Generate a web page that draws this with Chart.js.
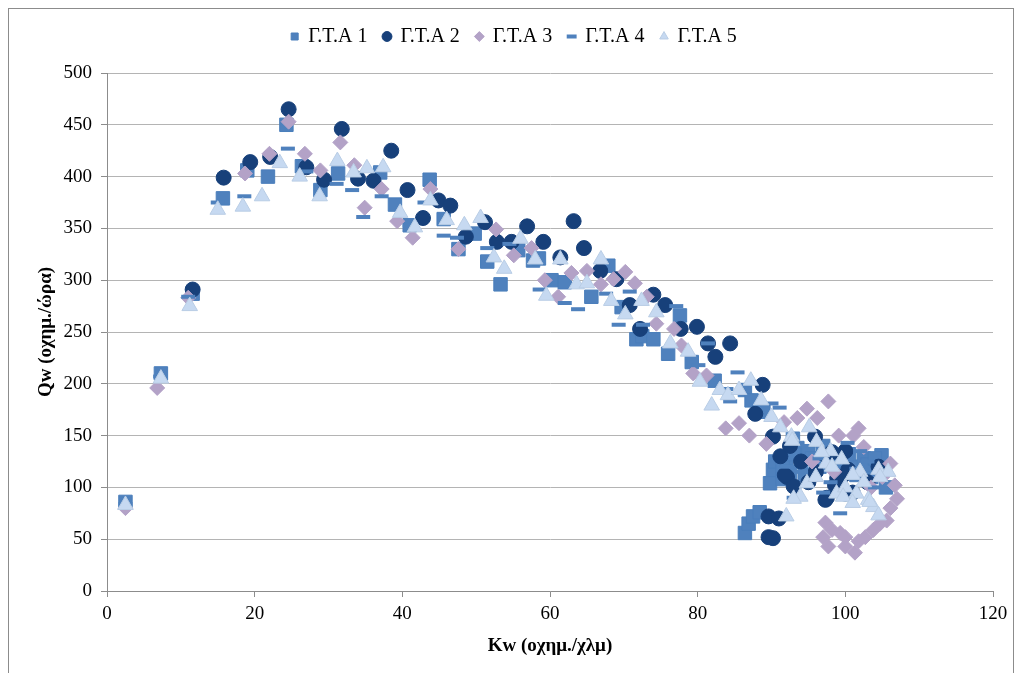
<!DOCTYPE html>
<html><head><meta charset="utf-8">
<script src="https://cdn.jsdelivr.net/npm/chart.js@4.4.1/dist/chart.umd.min.js"></script>
<style>
html,body{margin:0;padding:0;background:#fff;}
#wrap{position:relative;width:1019px;height:673px;overflow:hidden;}
#frame{position:absolute;left:8px;top:8px;width:1006px;height:700px;border:1px solid #8c8c8c;box-sizing:border-box;pointer-events:none;}
canvas{position:absolute;left:0;top:0;}
</style></head><body>
<div id="wrap"><canvas id="c" width="1019" height="673"></canvas><div id="frame"></div></div>
<script>
const seriesNames = ["Γ.Τ.Α 1", "Γ.Τ.Α 2", "Γ.Τ.Α 3", "Γ.Τ.Α 4", "Γ.Τ.Α 5"];
const xTicks = [0, 20, 40, 60, 80, 100, 120];
const yTicks = [0, 50, 100, 150, 200, 250, 300, 350, 400, 450, 500];

// Γ.Τ.Α 1 (squares)
const s1Kw = [2.5, 7.3, 11.6, 15.7, 19.0, 21.8, 24.3, 26.4, 28.9, 31.3, 37.0, 39.0, 41.0, 43.7, 45.6, 47.6, 49.8, 51.5, 53.3, 55.7, 57.7, 58.5, 60.2, 62.0, 65.6, 67.9, 69.7, 71.7, 72.5, 74.0, 76.0, 77.6, 79.2, 82.3, 86.4, 87.3, 88.9, 92.9, 89.8, 86.4, 86.9, 87.5, 88.4, 90.2, 90.5, 91.5, 92.0, 93.5, 94.0, 94.5, 95.0, 96.5, 97.0, 98.0, 99.5, 100.0, 101.0, 102.5, 103.5, 104.9, 105.5, 91.5, 93.0, 95.5, 96.0, 98.5, 100.5, 103.0, 104.0, 101.5, 92.5];
const s1Qw = [86, 210, 287, 379, 406, 400, 450, 410, 387, 403, 404, 373, 353, 397, 359, 330, 345, 318, 296, 329, 319, 321, 300, 298, 284, 314, 274, 243, 246, 243, 229, 266, 221, 203, 194, 184, 173, 147, 104, 56, 65, 72, 76, 117, 125, 108, 128, 138, 125, 112, 133, 120, 140, 130, 115, 125, 120, 128, 110, 131, 100, 120, 132, 128, 118, 125, 132, 122, 128, 112, 115];

// Γ.Τ.Α 2 (circles)
const s2Kw = [11.6, 15.8, 19.4, 22.1, 24.6, 27.0, 29.4, 31.8, 34.0, 36.1, 38.5, 40.7, 42.8, 44.9, 46.5, 48.6, 51.2, 52.8, 54.8, 56.9, 59.1, 61.4, 63.2, 64.6, 66.8, 69.0, 70.8, 72.2, 74.0, 75.6, 77.7, 79.9, 81.4, 82.4, 84.4, 88.8, 87.8, 90.2, 91.2, 92.1, 93.0, 95.9, 97.3, 98.6, 89.6, 91.0, 89.6, 90.2, 92.5, 94.0, 95.0, 96.0, 97.5, 99.5, 100.0, 101.0, 103.0, 104.5, 98.2, 100.4, 98.9, 97.5, 100.0, 91.8];
const s2Qw = [291, 399, 414, 419, 465, 409, 397, 446, 398, 396, 425, 387, 360, 377, 372, 342, 356, 337, 337, 352, 337, 322, 357, 331, 309, 301, 276, 253, 286, 276, 253, 255, 239, 226, 239, 199, 171, 149, 130, 110, 101, 149, 88, 102, 72, 70, 52, 51, 140, 125, 105, 115, 130, 110, 135, 95, 105, 120, 134, 117, 109, 90, 94, 112];

// Γ.Τ.Α 3 (diamonds)
const s3Kw = [2.5, 6.8, 11.0, 18.7, 22.0, 24.6, 26.8, 28.9, 31.6, 33.5, 34.9, 37.2, 39.3, 41.4, 43.8, 47.6, 52.7, 55.1, 57.5, 59.3, 61.1, 62.9, 65.0, 66.9, 68.6, 70.2, 71.5, 73.1, 74.4, 76.8, 77.8, 79.4, 81.2, 83.8, 85.6, 87.0, 89.3, 91.7, 93.5, 94.8, 96.2, 97.7, 99.1, 101.1, 101.8, 102.5, 106.1, 106.7, 107.0, 106.1, 105.6, 104.7, 103.8, 102.7, 101.8, 101.3, 100.0, 99.3, 98.2, 97.3, 97.0, 97.7, 100.0, 103.5, 105.0, 95.5, 98.5];
const s3Qw = [80, 196, 283, 403, 422, 453, 422, 406, 433, 411, 370, 388, 357, 341, 388, 330, 349, 324, 331, 300, 284, 307, 309, 296, 301, 308, 297, 284, 258, 253, 237, 210, 208, 157, 162, 150, 142, 163, 167, 176, 167, 183, 150, 150, 157, 139, 123, 102, 89, 80, 68, 65, 59, 52, 48, 37, 43, 56, 59, 66, 52, 43, 52, 100, 110, 125, 115];

// Γ.Τ.Α 4 (dashes)
const s4Kw = [2.5, 7.2, 11.0, 15.0, 18.6, 24.5, 27.0, 31.1, 33.2, 34.7, 37.2, 41.0, 43.0, 45.6, 47.4, 51.5, 54.5, 58.6, 62.0, 63.8, 67.6, 69.3, 70.8, 72.6, 77.1, 80.1, 81.4, 83.9, 84.4, 85.4, 90.0, 91.1, 92.0, 93.0, 94.0, 95.0, 96.5, 97.0, 98.0, 99.3, 100.3, 101.5, 102.0, 103.0, 104.0];
const s4Qw = [84, 207, 284, 375, 381, 427, 405, 393, 387, 361, 381, 353, 375, 343, 341, 331, 335, 291, 278, 272, 287, 257, 289, 257, 275, 218, 239, 195, 183, 211, 181, 177, 120, 90, 115, 140, 128, 95, 105, 75, 143, 118, 135, 125, 100];

// Γ.Τ.Α 5 (triangles)
const s5Kw = [2.5, 7.3, 11.2, 15.0, 18.4, 21.0, 23.4, 26.1, 28.8, 31.2, 33.4, 35.2, 37.4, 39.7, 41.7, 43.8, 46.0, 48.4, 50.6, 52.4, 53.8, 56.0, 58.0, 59.5, 61.4, 63.6, 65.0, 66.9, 68.3, 70.2, 72.4, 74.4, 76.3, 78.7, 80.3, 81.9, 83.0, 84.1, 85.6, 87.2, 88.6, 90.0, 91.2, 92.7, 95.1, 96.1, 97.4, 99.5, 102.0, 104.5, 105.8, 94.8, 93.9, 93.0, 98.8, 101.5, 103.1, 103.8, 104.5, 92.0, 96.0, 100.0, 98.0, 102.5, 96.8, 98.2, 101.0, 104.7, 99.7, 101.0, 103.3, 92.8];
const s5Qw = [83, 205, 275, 368, 371, 381, 413, 400, 381, 415, 404, 408, 409, 365, 351, 377, 358, 353, 360, 322, 311, 340, 320, 285, 320, 296, 297, 320, 280, 267, 280, 269, 239, 231, 202, 179, 194, 189, 194, 203, 184, 168, 158, 149, 158, 144, 123, 127, 115, 117, 115, 104, 91, 89, 94, 94, 88, 81, 73, 72, 110, 100, 135, 105, 134, 120, 112, 110, 91, 85, 86, 145];

const seriesKw = [s1Kw, s2Kw, s3Kw, s4Kw, s5Kw];
const seriesQw = [s1Qw, s2Qw, s3Qw, s4Qw, s5Qw];

const styles = [
  {pointStyle: 'rect', pointRadius: 9.5, pointBackgroundColor: '#4F81BD', pointBorderColor: '#4A7EBB', pointBorderWidth: 1},
  {pointStyle: 'circle', pointRadius: 7.5, pointBackgroundColor: '#17407A', pointBorderColor: '#17407A', pointBorderWidth: 1},
  {pointStyle: 'rectRot', pointRadius: 7.5, pointBackgroundColor: '#B3A2C7', pointBorderColor: '#B3A2C7', pointBorderWidth: 1},
  {pointStyle: 'line', pointRadius: 7, pointBackgroundColor: '#4F81BD', pointBorderColor: '#4F81BD', pointBorderWidth: 4},
  {pointStyle: 'triangle', pointRadius: 9, pointBackgroundColor: '#C6D9F1', pointBorderColor: '#B9CDE5', pointBorderWidth: 1}
];

const FONT = "'Liberation Serif', 'Times New Roman', serif";

const datasets = seriesNames.map((name, i) => Object.assign({
  label: name,
  data: seriesKw[i].map((k, j) => ({x: k, y: seriesQw[i][j]})),
  order: 4 - i,
  showLine: false,
  backgroundColor: styles[i].pointBackgroundColor,
  borderColor: styles[i].pointBorderColor,
  borderWidth: styles[i].pointBorderWidth
}, styles[i]));

const legendGap = {
  id: 'legendGap',
  afterInit(chart) {
    const lg = chart.legend;
    if (!lg) return;
    const fit = lg.fit;
    lg.fit = function () { fit.call(this); this.height += 16.5; };
  }
};

new Chart(document.getElementById('c'), {
  type: 'scatter',
  data: {datasets},
  plugins: [legendGap],
  options: {
    responsive: false,
    animation: false,
    devicePixelRatio: 1,
    layout: {padding: {left: 35, right: 26, top: 10.5, bottom: 0}},
    plugins: {
      tooltip: {enabled: false},
      legend: {
        position: 'top',
        labels: {
          usePointStyle: true,
          boxWidth: 7,
          boxHeight: 7,
          padding: 16,
          color: '#000',
          font: {family: FONT, size: 20},
          sort: (a, b) => a.datasetIndex - b.datasetIndex
        }
      }
    },
    scales: {
      x: {
        type: 'linear',
        min: 0, max: 120,
        afterFit: (s) => { s.height = 82; },
        afterBuildTicks: (s) => { s.ticks = xTicks.map(v => ({value: v})); },
        grid: {drawOnChartArea: false, drawTicks: true, tickLength: 6, color: '#8c8c8c'},
        border: {display: true, color: '#8c8c8c', width: 1},
        ticks: {color: '#000', font: {family: FONT, size: 19}, padding: 6},
        title: {display: true, text: 'Kw (οχημ./χλμ)', color: '#000', font: {family: FONT, size: 19, weight: 'bold'}, padding: {top: 4, bottom: 16}}
      },
      y: {
        type: 'linear',
        min: 0, max: 500,
        afterFit: (s) => { s.width = 72; },
        afterBuildTicks: (s) => { s.ticks = yTicks.map(v => ({value: v})); },
        grid: {color: '#b4b4b4', drawTicks: true, tickLength: 6, tickColor: '#8c8c8c'},
        border: {display: true, color: '#8c8c8c', width: 1},
        ticks: {color: '#000', font: {family: FONT, size: 19}, padding: 9},
        title: {display: true, text: 'Qw (οχημ./ώρα)', color: '#000', font: {family: FONT, size: 19, weight: 'bold'}, padding: 0}
      }
    }
  }
});
</script>
</body></html>
